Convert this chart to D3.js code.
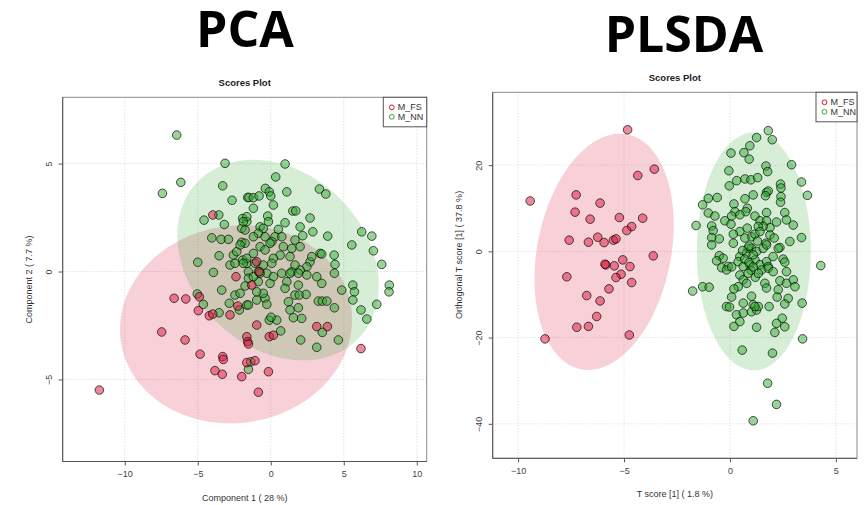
<!DOCTYPE html>
<html>
<head>
<meta charset="utf-8">
<script src="https://cdn.jsdelivr.net/npm/d3@7"></script>
<style>
  body { margin: 0; background: #fff; }
  svg text { font-family: "Liberation Sans", Arial, sans-serif; }
</style>
</head>
<body>
<div id="chart"></div>
<script>
// PCA scores (Component 1, Component 2)
const pcaFs = [[-3.97,2.62],[-2.38,-0.24],[-0.96,0.45],[-0.78,-0.01],[-6.62,-1.24],[-5.82,-1.27],[-4.89,-1.17],[-4.96,-1.81],[-4.21,-2.05],[-3.97,-1.97],[-2.79,-2.01],[-2.26,-1.60],[-7.47,-2.80],[-5.87,-3.17],[-4.84,-3.83],[-3.29,-3.94],[-3.25,-4.07],[-3.82,-4.59],[-3.32,-4.76],[-1.99,-4.87],[-1.64,-3.02],[-1.58,-3.25],[-1.53,-3.36],[-1.64,-4.22],[-1.08,-4.13],[-11.74,-5.49],[6.18,-3.57],[3.15,-2.55],[3.88,-2.55],[-0.10,-3.02],[0.18,-2.95],[-0.96,-2.48],[-0.16,-4.64],[-0.85,-5.59],[-1.30,-0.63]];
const pcaNn = [[-6.44,6.32],[-3.13,5.01],[-6.16,4.13],[-7.42,3.62],[-3.29,3.97],[-2.65,3.30],[-1.58,3.43],[-4.57,2.38],[-3.56,2.62],[-3.18,2.18],[-1.92,2.46],[-1.64,2.31],[-1.99,2.0],[-1.76,1.92],[-4.04,1.56],[-3.40,1.49],[-2.90,1.49],[-1.99,1.35],[-3.54,0.73],[-5.0,0.43],[-3.93,-0.04],[-2.56,0.76],[-2.33,0.92],[-2.79,0.30],[-2.45,0.38],[-1.92,0.53],[-1.64,0.38],
  [0.98,4.98],[0.34,4.38],[-0.37,3.85],[-0.10,3.69],[0.0,3.50],[1.10,3.69],[3.33,3.82],[3.77,3.59],[-1.49,3.43],[-1.19,3.42],[-0.80,3.50],[0.18,3.08],[-1.19,2.93],[1.51,2.80],[1.71,2.81],[2.69,2.48],[-1.64,2.54],[-1.88,2.31],[-0.21,2.57],[-0.16,2.31],[0.98,2.26],[2.01,2.07],[2.88,1.84],[3.90,1.64],[6.23,1.84],[6.92,1.64],[5.55,1.23],[7.03,0.96],[7.60,0.33],[4.34,0.76],[4.40,0.33],[4.36,-0.08],[3.38,0.84],[3.49,0.81],[2.19,1.66],[1.66,1.46],[2.01,1.15],[1.44,1.07],[0.52,1.95],[0.29,1.61],[0.07,1.38],[0.75,1.61],[-0.73,2.07],[-0.51,2.0],[-0.85,1.77],[-0.39,1.61],[-1.19,1.61],[-1.76,1.31],[-2.10,1.23],[0.86,1.15],[1.32,0.69],[0.64,0.76],[0.18,0.61],[2.69,0.45],[2.81,0.69],[2.47,0.22],[2.01,0.07],[1.44,-0.01],[1.66,0.30],[-0.73,1.15],[-0.39,1.0],[-0.05,1.31],[-1.19,0.84],[-1.64,0.61],[-1.08,0.38],[-0.51,0.30],[0.07,0.38],[-1.53,-0.01],[-0.85,-0.01],[-0.27,-0.08],[-1.88,0.38],
  [-5.03,-1.04],[-4.62,-1.52],[-3.54,-1.91],[-3.36,-0.86],[-2.45,-1.09],[-2.10,-1.01],[-1.76,-0.67],[-1.53,-0.31],[-2.84,-1.47],[-2.15,-1.78],[-1.64,-1.55],[-1.53,-4.53],
  [5.62,-0.63],[5.73,-0.94],[5.62,-1.32],[4.86,-0.86],[8.12,-0.63],[8.10,-0.94],[7.26,-1.52],[6.18,-1.78],[6.58,-2.20],[4.36,-1.68],[3.26,-1.37],[3.53,-1.37],[3.84,-1.37],[3.53,-2.82],[4.63,-3.17],[3.15,-3.51],[2.05,-3.17],[1.66,-1.09],[1.96,-1.09],[2.42,-1.06],[1.21,-1.40],[1.32,-1.78],[1.89,-1.68],[1.55,-2.14],[2.12,-2.17],[0.68,-2.75],[-0.10,-2.25],[0.41,-2.25],[0.02,-2.12],[-1.37,-4.18],[-1.53,-1.55],[-0.96,-1.32],[-0.39,-1.24],[-0.27,-1.52],[-0.51,-1.01],[-0.96,-0.94],[-0.85,-0.47],[0.18,-0.24],[0.75,-0.08],[1.32,-0.08],[1.89,-0.08],[2.47,-0.16],[3.15,-0.24],[3.49,-0.55],[1.89,-0.63],[1.10,-0.47],[0.98,-0.78],[-0.05,-0.55],[-1.19,-0.24],[-0.73,-0.08]];

// PLSDA scores (T score, orthogonal T score)
const plsFs = [[-4.83,28.2],[-3.57,19.07],[-4.35,17.6],[-9.43,11.7],[-7.26,13.1],[-7.31,9.1],[-6.13,11.2],[-6.60,7.47],[-5.22,7.85],[-4.12,7.70],[-4.64,5.75],[-4.87,4.83],[-7.59,2.6],[-6.68,2.13],[-6.24,3.29],[-5.94,2.04],[-5.50,2.6],[-5.38,2.9],[-3.62,-1.04],[-5.06,-1.97],[-4.72,-3.53],[-5.46,-3.36],[-5.86,-3.13],[-5.90,-2.97],[-5.14,-5.3],[-7.70,-5.9],[-5.38,-6.07],[-4.64,-7.23],[-5.71,-8.7],[-6.76,-10.25],[-6.13,-11.5],[-6.29,-15.1],[-7.23,-17.6],[-6.68,-17.4],[-8.73,-20.3],[-4.75,-19.4]];
const plsNn = [[1.81,28.0],[2.0,25.9],[1.26,26.4],[0.94,24.5],[0.66,22.9],[0.91,21.4],[0.05,22.8],[1.70,19.8],[1.78,18.5],[-0.05,18.7],[2.91,20.1],[0.32,16.4],[0.71,16.8],[0.99,16.6],[1.31,17.1],[-0.03,15.2],[2.39,15.6],[2.41,14.7],[3.38,16.1],[3.66,13.0],[1.10,13.1],[1.73,13.7],[1.81,14.0],[1.68,12.9],[2.41,12.7],[2.39,11.4],[-1.02,12.3],[-0.60,12.5],[-1.29,10.8],[0.71,12.2],[0.19,11.0],[0.82,10.0],[0.75,9.2],[0.24,9.2],[0.47,8.5],[2.59,9.0],[2.67,7.3],[2.99,6.1],[-1.02,8.9],[-0.71,8.2],[-0.24,7.1],[0.08,8.2],[0.05,6.3],[-1.60,6.0],[-0.86,5.9],[-0.79,4.8],[-0.86,3.2],[-0.50,2.9],[1.18,8.2],[1.42,7.1],[1.73,7.1],[1.73,9.0],[2.20,6.8],[1.89,5.5],[1.57,5.8],[1.34,5.8],[0.47,4.6],[0.82,5.4],[1.02,3.4],[0.71,3.1],[1.18,4.0],[1.42,4.6],[1.89,3.8],[2.09,3.1],[1.70,1.9],[0.16,4.0],[0.16,1.9],[2.83,2.3],[3.38,3.2],[2.36,0.9],[2.51,-1.8],[2.59,-2.5],[4.29,-3.3],[-0.86,1.5],[-0.50,-1.0],[-0.32,-1.6],[-0.63,-2.2],[-0.39,-3.8],[-0.08,-3.5],[0.47,-1.2],[0.39,-2.4],[0.86,0.7],[0.79,-0.4],[1.02,0.7],[1.26,0],[1.57,0.7],[1.73,1.5],[1.18,-2.0],[1.42,-3.1],[1.73,-2.4],[1.81,-3.5],[1.50,-4.3],[0.94,-3.1],[0.63,-3.5],[2.04,-1.2],[2.28,0.7],
  [0.9,1.2],[1.1,-0.8],[0.7,-1.8],[1.3,2.4],[0.6,0.2],[1.0,-4.4],[1.2,-6.0],[0.9,-2.6],
  [-1.76,-9.2],[-1.29,-8.2],[-0.98,-8.3],[-0.16,-4.3],[0.08,-3.6],[0.47,-5.5],[0.63,-6.6],[0.39,-8.2],[0.86,-5.1],[0.79,-7.4],[1.10,-3.6],[1.34,-5.1],[1.81,-3.9],[2.04,-4.7],[2.36,-6.8],[2.67,-4.7],[2.67,-7.4],[2.99,-6.6],[3.07,-8.2],[0.19,-8.7],[0.08,-10.6],[-0.16,-12.8],[-0.02,-12.9],[0.31,-14.7],[0.19,-17.4],[0.47,-16.3],[0.63,-14.3],[0.63,-12.0],[1.02,-10.4],[1.10,-12.4],[1.02,-14.0],[1.26,-13.6],[1.34,-12.8],[1.18,-12.8],[1.65,-7.4],[1.73,-8.5],[1.85,-12.8],[2.28,-8.9],[2.23,-10.6],[2.75,-10.9],[2.59,-12.2],[3.41,-12.0],[2.47,-15.5],[2.20,-16.7],[2.59,-17.5],[2.12,-18.8],[1.26,-17.6],[3.43,-20.3],[0.58,-22.9],[2.01,-23.6],[1.78,-30.6],[2.20,-35.5],[1.10,-39.3]];

// 95% ellipses: centre x, centre y, then two conjugate half-axis vectors
const pcaEllFs = [-2.38, -2.45, 7.95, 0.23, 0, 4.58];
const pcaEllNn = [0.5, 0.53, 6.9, -1.15, 0, 4.5];
const plsEllFs = [-5.94, -0.1, 3.2, 0, 0.75, 27.4];
const plsEllNn = [1.13, 0, 2.69, 0, 0, 27.6];

const groups = ['M_FS', 'M_NN'];
const pcaXTicks = [-10, -5, 0, 5, 10];
const pcaYTicks = [-5, 0, 5];
const plsXTicks = [-10, -5, 0, 5];
const plsYTicks = [-40, -20, 0, 20];

const colFs = [220, 20, 60];
const colNn = [50, 170, 50];
const rgba = (c, a) => 'rgba(' + c.join(',') + ',' + a + ')';

const svg = d3.select('#chart').append('svg')
  .attr('width', 867)
  .attr('height', 505);

function panel(opts) {
  const {title, box, xDomain, yDomain, xTicks, yTicks, xLabel, yLabel, yLabelMid, fs, nn, ellFs, ellNn, legend} = opts;
  const [left, top, right, bottom] = box;
  const x = d3.scaleLinear().domain(xDomain).range([left, right]);
  const y = d3.scaleLinear().domain(yDomain).range([bottom, top]);
  const g = svg.append('g');

  // big heading
  g.append('text')
    .attr('x', title.x).attr('y', title.y)
    .attr('text-anchor', 'middle')
    .style('font-family', '"Open Sans", "Noto Sans", sans-serif')
    .style('font-weight', 700)
    .style('font-size', '50px')
    .text(title.text);

  g.append('text')
    .attr('x', (left + right) / 2).attr('y', top - 11)
    .attr('text-anchor', 'middle')
    .style('font-weight', 700)
    .style('font-size', '9.5px')
    .attr('fill', '#222')
    .text('Scores Plot');

  // dotted grid
  g.selectAll('.vg').data(xTicks).enter().append('line')
    .attr('x1', d => x(d)).attr('x2', d => x(d))
    .attr('y1', top).attr('y2', bottom)
    .attr('stroke', '#d4d4d4').attr('stroke-dasharray', '1,2');
  g.selectAll('.hg').data(yTicks).enter().append('line')
    .attr('y1', d => y(d)).attr('y2', d => y(d))
    .attr('x1', left).attr('x2', right)
    .attr('stroke', '#d4d4d4').attr('stroke-dasharray', '1,2');

  // ellipses
  const ellPath = (e) => {
    const [cx, cy, ux, uy, vx, vy] = e;
    const pts = d3.range(0, 360, 3).map((a) => {
      const t = a * Math.PI / 180;
      return [x(cx + ux * Math.cos(t) + vx * Math.sin(t)), y(cy + uy * Math.cos(t) + vy * Math.sin(t))];
    });
    return d3.line()(pts) + 'Z';
  };
  g.append('path').attr('d', ellPath(ellFs)).attr('fill', rgba(colFs, 0.2));
  g.append('path').attr('d', ellPath(ellNn)).attr('fill', rgba(colNn, 0.2));

  // points
  g.selectAll('.nn').data(nn).enter().append('circle')
    .attr('cx', d => x(d[0])).attr('cy', d => y(d[1]))
    .attr('r', 4.3)
    .attr('fill', rgba(colNn, 0.5))
    .attr('stroke', 'rgba(0,0,0,0.75)').attr('stroke-width', 0.9);
  g.selectAll('.fs').data(fs).enter().append('circle')
    .attr('cx', d => x(d[0])).attr('cy', d => y(d[1]))
    .attr('r', 4.3)
    .attr('fill', rgba(colFs, 0.5))
    .attr('stroke', 'rgba(0,0,0,0.75)').attr('stroke-width', 0.9);

  // frame
  g.append('rect')
    .attr('x', left).attr('y', top)
    .attr('width', right - left).attr('height', bottom - top)
    .attr('fill', 'none').attr('stroke', '#8a8a8a');

  // axes
  const xAxis = d3.axisBottom(x).tickValues(xTicks).tickSize(4).tickPadding(5).tickSizeOuter(0);
  const yAxis = d3.axisLeft(y).tickValues(yTicks).tickSize(4).tickPadding(5).tickSizeOuter(0);
  const ax = g.append('g').attr('transform', 'translate(0,' + bottom + ')').call(xAxis);
  const ay = g.append('g').attr('transform', 'translate(' + left + ',0)').call(yAxis);
  ax.select('.domain').attr('d', 'M' + left + ',0H' + right).attr('stroke', '#555');
  ay.select('.domain').attr('d', 'M0,' + top + 'V' + bottom).attr('stroke', '#555');
  [ax, ay].forEach((a) => {
    a.selectAll('.tick line').attr('stroke', '#555');
    a.selectAll('.tick text')
      .style('font-family', '"Liberation Sans", Arial, sans-serif')
      .style('font-size', '9px').attr('fill', '#444');
  });
  ax.selectAll('.tick text').attr('y', 9).attr('dy', '0.71em');
  ay.selectAll('.tick text')
    .attr('x', null).attr('dy', null)
    .attr('text-anchor', 'middle')
    .attr('transform', 'translate(-14,0) rotate(-90)')
    .attr('y', 3);

  g.append('text')
    .attr('x', (left + right) / 2).attr('y', bottom + 39)
    .attr('text-anchor', 'middle')
    .style('font-size', '9px').attr('fill', '#333')
    .text(xLabel);
  g.append('text')
    .attr('transform', 'translate(' + (left - 31) + ',' + yLabelMid + ') rotate(-90)')
    .attr('text-anchor', 'middle')
    .style('font-size', '9px').attr('fill', '#333')
    .text(yLabel);

  // legend
  const lg = g.append('g').attr('transform', 'translate(' + legend[0] + ',' + legend[1] + ')');
  lg.append('rect')
    .attr('width', legend[2]).attr('height', 29.5)
    .attr('fill', '#fff').attr('stroke', '#555');
  groups.forEach((name, i) => {
    lg.append('circle')
      .attr('cx', 8.5).attr('cy', 10 + i * 9.5).attr('r', 2.4)
      .attr('fill', 'none')
      .attr('stroke', i === 0 ? rgb(colFs) : rgb(colNn));
    lg.append('text')
      .attr('x', 14.5).attr('y', 13.2 + i * 9.5)
      .style('font-size', '9px').attr('fill', '#333')
      .text(name);
  });
}

function rgb(c) { return 'rgb(' + c.join(',') + ')'; }

panel({
  title: {text: 'PCA', x: 245, y: 47},
  box: [62.7, 97.3, 426.7, 461.5],
  xDomain: [-14.25, 10.68],
  yDomain: [-8.8, 8.07],
  xTicks: pcaXTicks,
  yTicks: pcaYTicks,
  xLabel: 'Component 1 ( 28 %)',
  yLabel: 'Component 2 ( 7.7 %)',
  yLabelMid: 279.5,
  fs: pcaFs,
  nn: pcaNn,
  ellFs: pcaEllFs,
  ellNn: pcaEllNn,
  legend: [383.3, 97.3, 43.4]
});

panel({
  title: {text: 'PLSDA', x: 684, y: 52},
  box: [492.7, 92.3, 857, 458.3],
  xDomain: [-11.2, 6.0],
  yDomain: [-48, 36.9],
  xTicks: plsXTicks,
  yTicks: plsYTicks,
  xLabel: 'T score [1] ( 1.8 %)',
  yLabel: 'Orthogonal T score [1] ( 37.8 %)',
  yLabelMid: 255,
  fs: plsFs,
  nn: plsNn,
  ellFs: plsEllFs,
  ellNn: plsEllNn,
  legend: [816, 92.3, 41]
});
</script>
</body>
</html>
